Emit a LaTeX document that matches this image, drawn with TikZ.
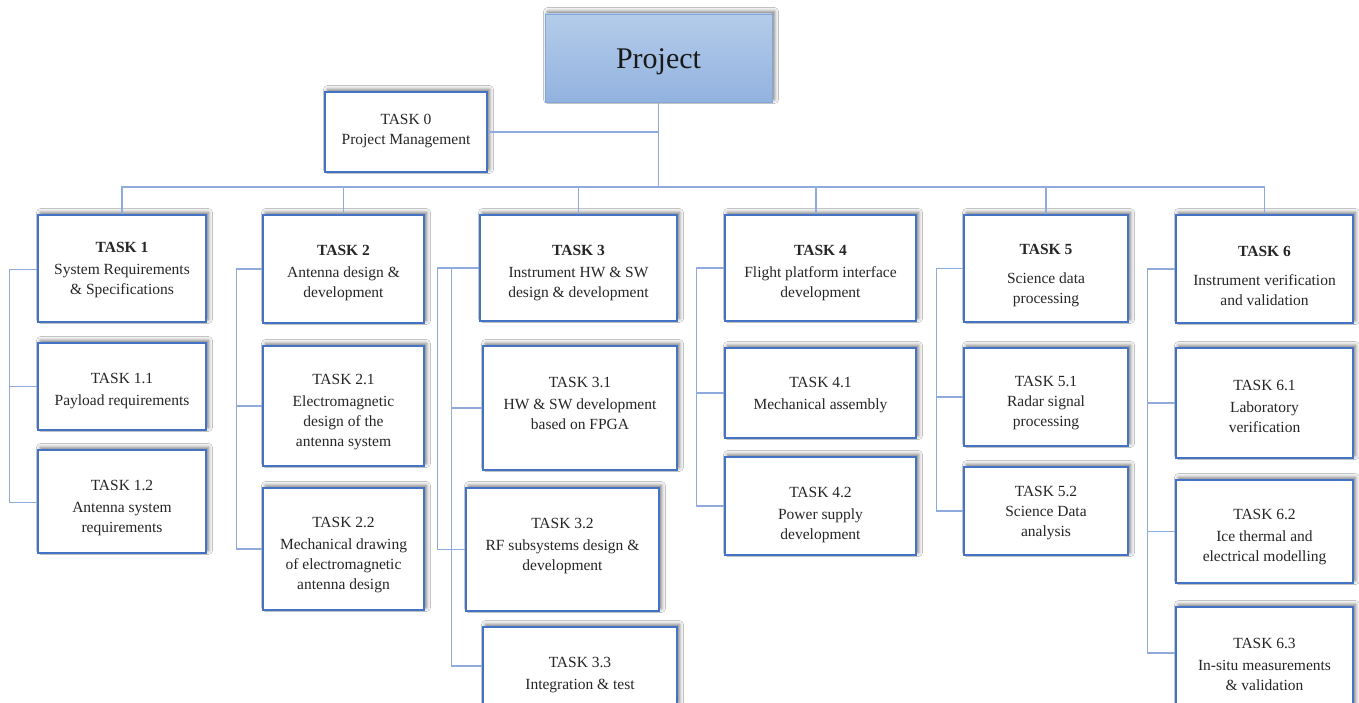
\documentclass[tikz,border=0pt]{standalone}
\usepackage{fontspec}
\setmainfont{Liberation Serif}
\usetikzlibrary{shadows.blur}
\definecolor{bd}{HTML}{4472C4}
\definecolor{cn}{HTML}{8FAADC}
\definecolor{tx}{HTML}{262626}
\definecolor{ptop}{HTML}{B4CCEA}
\definecolor{pbot}{HTML}{92B2DF}
\tikzset{
  box/.style={draw=bd, line width=1.6pt, fill=white, inner sep=0pt,
    blur shadow={shadow xshift=2.5pt, shadow yshift=2.5pt, shadow blur radius=4pt, shadow opacity=55}},
  txt/.style={align=center, text=tx, inner sep=0pt, font=\fontsize{15.5}{20}\selectfont},
  conn/.style={draw=cn, line width=1.2pt},
  proj/.style={draw=pbot!80!bd, line width=0.6pt, top color=ptop, bottom color=pbot, inner sep=0pt,
    blur shadow={shadow xshift=2.5pt, shadow yshift=2.5pt, shadow blur radius=4pt, shadow opacity=55}},
}
\newcommand\tbox[7]{%
  \node[box, minimum width={#4pt-#2pt}, minimum height={#5pt-#3pt}] (#1) at ({(#2+#4)/2},{(#3+#5)/2}) {};
  \node[txt] (#1-t) at ({(#2+#4)/2},#6) {#7};
}
\begin{document}
\begin{tikzpicture}[x=1pt,y=-1pt]
\useasboundingbox (0,0) rectangle (1359,703);
\clip (0,0) rectangle (1359,703);
\fill[white] (0,0) rectangle (1359,703);

% Project
\node[proj, minimum width=227pt, minimum height=88pt] (p) at (658.5,58) {};
\node[text=black!90, font=\fontsize{30}{34}\selectfont, inner sep=0pt] (p-t) at (658.5,62) {Project};

\tbox{t0}{325}{92}{487}{172}{131}{TASK 0\\Project Management}

\tbox{t1}{38}{215}{206}{322}{270.5}{\textbf{TASK 1}\\[2pt]System Requirements\\\& Specifications}
\tbox{t11}{38}{343}{206}{430}{391}{TASK 1.1\\[2pt]Payload requirements}
\tbox{t12}{38}{450}{206}{553}{508.5}{TASK 1.2\\[2pt]Antenna system\\requirements}

\tbox{t2}{263}{215}{424}{323}{273}{\textbf{TASK 2}\\[2pt]Antenna design \&\\development}
\tbox{t21}{263}{346}{424}{466}{412.5}{TASK 2.1\\[2pt]Electromagnetic\\design of the\\antenna system}
\tbox{t22}{263}{488}{424}{610}{555.5}{TASK 2.2\\[2pt]Mechanical drawing\\of electromagnetic\\antenna design}

\tbox{t3}{480}{215}{677}{321}{273}{\textbf{TASK 3}\\[2pt]Instrument HW \& SW\\design \& development}
\tbox{t31}{483}{346}{677}{470}{403}{TASK 3.1\\[2pt]HW \& SW development\\based on FPGA}
\tbox{t32}{466}{488}{659}{611}{546}{TASK 3.2\\[2pt]RF subsystems design \&\\development}
\tbox{t33}{483}{627}{677}{705}{675}{TASK 3.3\\[2pt]Integration \& test}

\tbox{t4}{725}{215}{916}{321}{273}{\textbf{TASK 4}\\[2pt]Flight platform interface\\development}
\tbox{t41}{725}{348}{916}{438}{395}{TASK 4.1\\[2pt]Mechanical assembly}
\tbox{t42}{725}{457}{916}{555}{515}{TASK 4.2\\[2pt]Power supply\\development}

\tbox{t5}{964}{215}{1128}{322}{276}{\textbf{TASK 5}\\[9pt]Science data\\processing}
\tbox{t51}{964}{348}{1128}{446}{403.5}{TASK 5.1\\Radar signal\\processing}
\tbox{t52}{964}{467}{1128}{555}{513.5}{TASK 5.2\\Science Data\\analysis}

\tbox{t6}{1176}{215}{1353}{323}{276}{\textbf{TASK 6}\\[9pt]Instrument verification\\and validation}
\tbox{t61}{1176}{348}{1353}{458}{406.5}{TASK 6.1\\[2pt]Laboratory\\verification}
\tbox{t62}{1176}{480}{1353}{583}{537.5}{TASK 6.2\\[2pt]Ice thermal and\\electrical modelling}
\tbox{t63}{1176}{607}{1353}{707}{664.5}{TASK 6.3\\[2pt]In-situ measurements\\\& validation}

% connectors
\coordinate (bus) at (658.5,187);
\draw[conn] (p.south) -- (bus);
\draw[conn] (t0.east) -- (t0.east -| p.south);
\draw[conn] (t1.north) |- (bus) -| (t6.north);
\draw[conn] (t2.north) -- (t2.north |- bus);
\draw[conn] (t3.north) -- (t3.north |- bus);
\draw[conn] ([xshift=-4.5pt]t4.north) -- ([xshift=-4.5pt]t4.north |- bus);
\draw[conn] (t5.north) -- (t5.north |- bus);

\draw[conn] ([yshift=-1pt]t1.west) -- ++(-28,0) coordinate (c1) |- (t11.west);
\draw[conn] (c1) |- ([yshift=-1pt]t12.west);

\draw[conn] (t2.west) -- ++(-26,0) coordinate (c2) |- (t21.west);
\draw[conn] (c2) |- (t22.west);

\draw[conn] (t3.west) -- ++(-42,0) coordinate (c3o) |- (t32.west);
\draw[conn] ([xshift=-28pt]t3.west) coordinate (c3i) |- (t31.west);
\draw[conn] (c3i) |- (t33.west);

\draw[conn] (t4.west) -- ++(-28,0) coordinate (c4) |- (t41.west);
\draw[conn] (c4) |- (t42.west);

\draw[conn] (t5.west) -- ++(-27,0) coordinate (c5) |- (t51.west);
\draw[conn] (c5) |- (t52.west);

\draw[conn] (t6.west) -- ++(-28,0) coordinate (c6) |- (t61.west);
\draw[conn] (c6) |- (t62.west);
\draw[conn] (c6) |- ([yshift=4pt]t63.west);
\end{tikzpicture}
\end{document}
